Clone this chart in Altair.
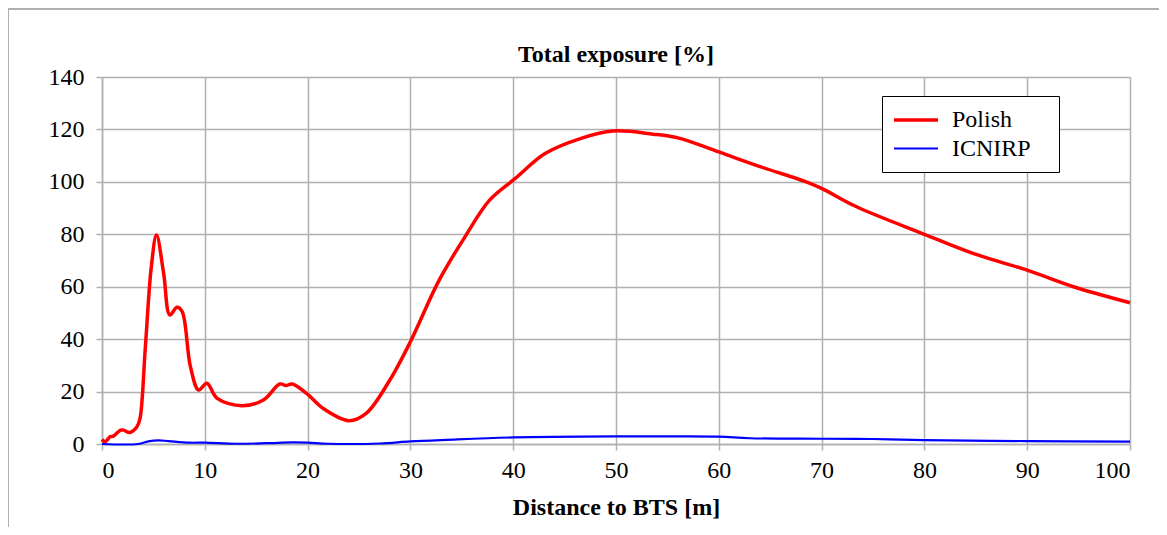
import altair as alt
import pandas as pd

polish_x = [0, 0.3, 0.8, 1.1, 1.8, 2.1, 2.7, 3.4, 3.7, 4.2, 4.8, 5.3, 6.0, 6.6, 7.3, 7.8,
            8.6, 9.4, 10.2, 11.2, 13.6, 15.7, 17.3, 17.9, 18.5, 19.9, 21.5, 24.0, 25.7, 28.0,
            30, 32.8, 35.4, 37.7, 40.2, 43.1, 46.6, 49.7, 53.6, 56.2, 60, 64.1, 68.5, 70,
            73.4, 80, 84.8, 90, 94.5, 100]
polish_y = [1.8, 0.9, 2.8, 3.0, 5.3, 5.3, 4.4, 6.6, 9.8, 35.9, 67.7, 79.7, 65, 49.2, 52.2, 50.5,
            29.5, 20.6, 23.2, 17.4, 14.6, 16.8, 22.9, 22.3, 22.9, 19.3, 13.6, 8.9, 11.7, 24.4,
            39, 62.5, 79.6, 93, 101.3, 110.8, 116.6, 119.4, 118.2, 116.6, 111.4, 105.7, 100, 97.5,
            90.5, 80, 72.6, 66.3, 60, 53.9]

icnirp_x = [0, 3.5, 4.5, 5.5, 6.5, 8.5, 10, 13, 16, 18.5, 20, 22, 27, 30, 33.5, 40, 50, 55,
            60, 63, 70, 75, 80, 90, 100]
icnirp_y = [0, 0, 1.0, 1.4, 1.1, 0.5, 0.5, 0.1, 0.3, 0.6, 0.5, 0.1, 0.2, 1.0, 1.6, 2.5, 2.9, 2.9,
            2.8, 2.2, 2.0, 1.9, 1.5, 1.1, 0.9]

series_names = ["Polish", "ICNIRP"]
series_colors = ["#ff0000", "#0000ff"]
series_widths = [3.5, 2.2]

x_ticks = [0, 10, 20, 30, 40, 50, 60, 70, 80, 90, 100]
y_ticks = [0, 20, 40, 60, 80, 100, 120, 140]

chart_title = "Total exposure [%]"
x_title = "Distance to BTS [m]"

df = pd.concat([
    pd.DataFrame({"d": polish_x, "v": polish_y, "series": "Polish", "order": range(len(polish_x))}),
    pd.DataFrame({"d": icnirp_x, "v": icnirp_y, "series": "ICNIRP", "order": range(len(icnirp_x))}),
])

FONT = "Liberation Serif"
FS = 24

legend_kw = dict(title=".", titleOrient="right", titleOpacity=0, titleFontSize=8,
                 titlePadding=14,
                 orient="none", legendX=780, legendY=19,
                 symbolType="M-2,0H2", symbolSize=484, symbolOffset=10,
                 labelFont=FONT, labelFontSize=FS, labelColor="black",
                 padding=11, strokeColor="black", fillColor="white",
                 rowPadding=4, labelOffset=23)

axis_kw = dict(labelFont=FONT, labelFontSize=FS, labelColor="black",
               titleFont=FONT, titleFontSize=FS, titleFontWeight="bold", titleColor="black")

lines = alt.Chart(df).mark_line(interpolate="catmull-rom").encode(
    x=alt.X("d:Q", scale=alt.Scale(domain=[0, 100], nice=False),
            axis=alt.Axis(values=x_ticks, title=x_title, format="d", **axis_kw)),
    y=alt.Y("v:Q", scale=alt.Scale(domain=[0, 140], nice=False),
            axis=alt.Axis(values=y_ticks, title=None, format="d", **axis_kw)),
    color=alt.Color("series:N", scale=alt.Scale(domain=series_names, range=series_colors),
                    legend=alt.Legend(**legend_kw)),
    strokeWidth=alt.StrokeWidth("series:N", scale=alt.Scale(domain=series_names, range=series_widths),
                                legend=alt.Legend(**legend_kw)),
    order="order:Q",
)

frame_v = alt.Chart(df).mark_rule(color="#b0b0b0", strokeWidth=1.5, clip=False).encode(
    x=alt.value(-94.5), y=alt.value(-68), y2=alt.value(470))
frame_h = alt.Chart(df).mark_rule(color="#b0b0b0", strokeWidth=1.5, clip=False).encode(
    x=alt.value(-94.5), x2=alt.value(1060), y=alt.value(-68))

title_text = alt.Chart(pd.DataFrame({"t": [chart_title]})).mark_text(
    font=FONT, fontSize=FS, fontWeight="bold", color="black",
    align="center", baseline="alphabetic", clip=False,
).encode(text="t:N", x=alt.value(514), y=alt.value(-15))

chart = alt.layer(frame_v, frame_h, lines, title_text).properties(
    width=1028, height=367,
    padding={"left": 94, "top": 69, "right": 29, "bottom": 83},
    autosize=alt.AutoSizeParams(type="none"),
).configure_view(stroke=None).configure_axis(
    gridColor="#b0b0b0", gridWidth=1.5, domainColor="#b0b0b0", domainWidth=1.5,
    tickColor="#b0b0b0", tickWidth=1.5, tickSize=6,
).configure_axisX(labelPadding=8, titlePadding=13).configure_axisY(labelPadding=12)

chart.save("out.html", embed_options={"renderer": "svg", "actions": False})
